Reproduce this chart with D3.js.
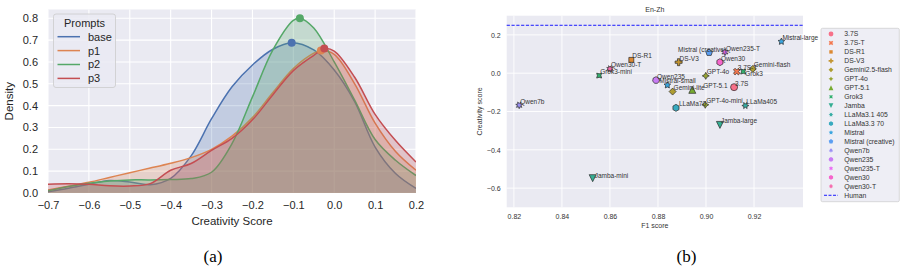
<!DOCTYPE html>
<html><head><meta charset="utf-8">
<script src="https://cdn.jsdelivr.net/npm/d3@7"></script>
<style>body{margin:0;background:#fff}svg{display:block}</style>
</head><body>
<svg id="c" width="906" height="269"></svg>
<script>
// ---------------- DATA: panel (a) ----------------
const promptNames = ["base", "p1", "p2", "p3"];
const kdeGrid = [-0.7,-0.65,-0.6,-0.55,-0.5,-0.45,-0.4,-0.35,-0.3,-0.25,-0.2,-0.15,-0.1,-0.05,0.0,0.05,0.1,0.15,0.2];
const densityBase = [0.006,0.022,0.040,0.057,0.050,0.038,0.067,0.170,0.340,0.486,0.586,0.658,0.688,0.655,0.563,0.418,0.210,0.089,0.021];
const densityP1   = [0.014,0.031,0.049,0.071,0.093,0.114,0.136,0.162,0.200,0.260,0.345,0.460,0.570,0.640,0.635,0.500,0.320,0.190,0.104];
const densityP2   = [0.010,0.030,0.045,0.055,0.060,0.060,0.062,0.066,0.095,0.226,0.440,0.655,0.790,0.755,0.600,0.425,0.245,0.150,0.080];
const densityP3   = [0.040,0.042,0.040,0.033,0.032,0.043,0.104,0.135,0.195,0.250,0.335,0.450,0.560,0.630,0.650,0.530,0.360,0.240,0.142];
const peakX = [-0.104, -0.0325, -0.084, -0.0243];
const peakY = [0.688, 0.652, 0.800, 0.661];
const aTicksX = [-0.7,-0.6,-0.5,-0.4,-0.3,-0.2,-0.1,0.0,0.1,0.2];
const aTicksY = [0.0,0.1,0.2,0.3,0.4,0.5,0.6,0.7,0.8];

// ---------------- DATA: panel (b) ----------------
const legendGroups = ["3.7S","3.7S-T","DS-R1","DS-V3","Gemini2.5-flash","GPT-4o","GPT-5.1","Grok3","Jamba","LLaMa3.1 405","LLaMa3.3 70","Mistral","Mistral (creative)","Qwen7b","Qwen235","Qwen235-T","Qwen30","Qwen30-T"];
const pointLabels = ["Mistral-large","Mistral (creative)","Qwen235-T","Qwen30","DS-V3","DS-R1","Qwen30-T","Grok3-mini","Qwen7b","3.7S-T","Grok3","Gemini-flash","GPT-4o","Qwen235","Mistral-small","Gemini-lite","GPT-5.1","3.7S","LLaMa70","GPT-4o-mini","LLaMa405","Jamba-large","Jamba-mini"];
const pointGroups = ["Mistral","Mistral (creative)","Qwen235-T","Qwen30","DS-V3","DS-R1","Qwen30-T","Grok3","Qwen7b","3.7S-T","Grok3","Gemini2.5-flash","GPT-4o","Qwen235","Mistral","Gemini2.5-flash","GPT-5.1","3.7S","LLaMa3.3 70","GPT-4o","LLaMa3.1 405","Jamba","Jamba"];
const f1Scores = [0.9314,0.9013,0.9079,0.9058,0.8886,0.8689,0.8600,0.8555,0.8222,0.9128,0.9155,0.9195,0.8999,0.8792,0.8839,0.8861,0.8943,0.9117,0.8875,0.8997,0.9164,0.9058,0.8528];
const creativityScores = [0.165,0.1075,0.1095,0.0574,0.0574,0.0694,0.0224,-0.0125,-0.167,0.0083,0.0083,0.0224,-0.014,-0.0365,-0.0626,-0.096,-0.087,-0.073,-0.181,-0.165,-0.169,-0.270,-0.548];
const humanScore = 0.25;
const bTicksX = [0.82,0.84,0.86,0.88,0.90,0.92];
const bTicksY = [-0.6,-0.4,-0.2,0.0,0.2];

// ---------------- STYLE ----------------
const promptColors = ["#4c72b0","#dd8452","#55a868","#c44e52"];
const groupColors = ["#f77189","#f3784f","#dc8932","#c39532","#ae9d31","#97a431","#77ab31","#33b16f","#35ae93","#36ada4","#38aabf","#3aa5df","#5b9ef2","#9a8ff4","#c87cf4","#e96cf4","#f565cc","#f66bad"];
const groupMarkers = [
  {t:"circle"},{t:"X"},{t:"poly",n:4,a:45},{t:"P"},{t:"poly",n:4,a:0},{t:"star",n:4,a:0},
  {t:"tri",up:true},{t:"star",n:4,a:45},{t:"tri",up:false},{t:"star",n:6,a:30},{t:"poly",n:6,a:0},
  {t:"star",n:5,a:0},{t:"poly",n:5,a:0},{t:"star",n:7,a:25.7},{t:"poly",n:7,a:0},{t:"star",n:6,a:0},
  {t:"poly",n:6,a:0},{t:"star",n:8,a:22.5}
];
const labelNudge = {
  "Mistral (creative)":[-31,-1], "Grok3":[2,4.8], "Mistral-small":[-8,-1.8], "GPT-5.1":[11,-1.5],
  "LLaMa70":[3,-2.2], "Jamba-mini":[2,-0.6]
};

const SANS = "'Liberation Sans', Arial, Helvetica, sans-serif";
const SERIF = "'Liberation Serif', 'Times New Roman', serif";
const BG = "#eaeaf2";
const svg = d3.select("#c");

function markerPath(m, R) {
  const p = d3.path();
  const rot = d => d * Math.PI / 180;
  if (m.t === "circle") { p.moveTo(R, 0); p.arc(0, 0, R, 0, 2 * Math.PI); p.closePath(); return p.toString(); }
  let pts = [];
  if (m.t === "poly" || m.t === "star") {
    const k = m.t === "star" ? 2 * m.n : m.n;
    for (let i = 0; i < k; i++) {
      const r = (m.t === "star" && i % 2 === 1) ? R * 0.5 : R;
      const th = -Math.PI / 2 + (2 * Math.PI * i) / k - rot(m.a);
      pts.push([r * Math.cos(th), r * Math.sin(th)]);
    }
  } else if (m.t === "tri") {
    pts = m.up ? [[0,-R],[-R,R],[R,R]] : [[0,R],[-R,-R],[R,-R]];
  } else if (m.t === "P" || m.t === "X") {
    const base = [[-1,-3],[1,-3],[1,-1],[3,-1],[3,1],[1,1],[1,3],[-1,3],[-1,1],[-3,1],[-3,-1],[-1,-1]].map(([x,y]) => [x*R/3, y*R/3]);
    if (m.t === "P") pts = base;
    else { const c = Math.cos(Math.PI/4), s = Math.sin(Math.PI/4); pts = base.map(([x,y]) => [x*c - y*s, x*s + y*c]); }
  }
  pts.forEach((q, i) => i ? p.lineTo(q[0], q[1]) : p.moveTo(q[0], q[1]));
  p.closePath();
  return p.toString();
}

// ================= PANEL (a) =================
const A = {x0: 48, x1: 416, y0: 9.5, y1: 193};
const xA = d3.scaleLinear().domain([-0.7, 0.2]).range([A.x0, A.x1]);
const yA = d3.scaleLinear().domain([0, 0.84]).range([A.y1, A.y0]);
const gA = svg.append("g");
gA.append("rect").attr("x", A.x0).attr("y", A.y0).attr("width", A.x1 - A.x0).attr("height", A.y1 - A.y0).attr("fill", BG);
gA.append("g").selectAll("line").data(aTicksX).join("line")
  .attr("x1", d => xA(d)).attr("x2", d => xA(d)).attr("y1", A.y0).attr("y2", A.y1)
  .attr("stroke", "#fff").attr("stroke-width", 1.1);
gA.append("g").selectAll("line").data(aTicksY).join("line")
  .attr("x1", A.x0).attr("x2", A.x1).attr("y1", d => yA(d)).attr("y2", d => yA(d))
  .attr("stroke", "#fff").attr("stroke-width", 1.1);

const fmtMinus = f => d => f(d).replace("-", "\u2212");
const axAx = gA.append("g").attr("transform", `translate(0,${A.y1})`)
  .call(d3.axisBottom(xA).tickValues(aTicksX).tickSize(0).tickPadding(8).tickFormat(fmtMinus(d3.format(".1f"))));
const axAy = gA.append("g").attr("transform", `translate(${A.x0},0)`)
  .call(d3.axisLeft(yA).tickValues(aTicksY).tickSize(0).tickPadding(10).tickFormat(d3.format(".1f")));
[axAx, axAy].forEach(ax => { ax.select(".domain").remove(); ax.selectAll("text").attr("font-family", SANS).attr("font-size", 11).attr("fill", "#262626"); });

const seriesA = [densityBase, densityP1, densityP2, densityP3];
const curve = d3.curveCatmullRom.alpha(0.5);
const area = d3.area().x(d => xA(d[0])).y0(yA(0)).y1(d => yA(Math.max(0, d[1]))).curve(curve);
const line = d3.line().x(d => xA(d[0])).y(d => yA(d[1])).curve(curve);
gA.append("clipPath").attr("id", "clipA").append("rect")
  .attr("x", A.x0).attr("y", A.y0).attr("width", A.x1 - A.x0).attr("height", A.y1 - A.y0);
const plotA = gA.append("g").attr("clip-path", "url(#clipA)");
seriesA.forEach((vals, i) => {
  let pts = kdeGrid.map((x, j) => [x, vals[j]]).filter(p => Math.abs(p[0] - peakX[i]) > 0.015);
  pts.push([peakX[i], peakY[i]]);
  pts.sort((a, b) => a[0] - b[0]);
  plotA.append("path").attr("d", area(pts)).attr("fill", promptColors[i]).attr("fill-opacity", 0.25);
  plotA.append("path").attr("d", line(pts)).attr("fill", "none").attr("stroke", promptColors[i]).attr("stroke-width", 1.5);
});
promptNames.forEach((n, i) => {
  gA.append("circle").attr("cx", xA(peakX[i])).attr("cy", yA(peakY[i])).attr("r", 4).attr("fill", promptColors[i]);
});

const lgA = gA.append("g");
lgA.append("rect").attr("x", 53.5).attr("y", 14).attr("width", 62).attr("height", 73.5).attr("rx", 2.5)
  .attr("fill", BG).attr("fill-opacity", 0.8).attr("stroke", "#cccccc").attr("stroke-width", 0.8);
lgA.append("text").attr("x", 84.5).attr("y", 26.5).attr("text-anchor", "middle").attr("font-family", SANS).attr("font-size", 11).attr("fill", "#262626").text("Prompts");
promptNames.forEach((n, i) => {
  const y = 36.7 + i * 13.9;
  lgA.append("line").attr("x1", 57.5).attr("x2", 80).attr("y1", y).attr("y2", y).attr("stroke", promptColors[i]).attr("stroke-width", 1.5);
  lgA.append("text").attr("x", 88).attr("y", y + 3.9).attr("font-family", SANS).attr("font-size", 11).attr("fill", "#262626").text(n);
});
gA.append("text").attr("x", (A.x0 + A.x1) / 2).attr("y", 224.5).attr("text-anchor", "middle").attr("font-family", SANS).attr("font-size", 11.5).attr("fill", "#262626").text("Creativity Score");
gA.append("text").attr("transform", `translate(12.5,${(A.y0 + A.y1) / 2}) rotate(-90)`).attr("text-anchor", "middle").attr("font-family", SANS).attr("font-size", 11.5).attr("fill", "#262626").text("Density");
svg.append("text").attr("x", 213).attr("y", 262).attr("text-anchor", "middle").attr("font-family", SERIF).attr("font-size", 17).attr("fill", "#000").text("(a)");

// ================= PANEL (b) =================
const B = {x0: 506.7, x1: 803, y0: 15.7, y1: 207.3};
const xB = d3.scaleLinear().domain([0.817, 0.9404]).range([B.x0, B.x1]);
const yB = d3.scaleLinear().domain([-0.7, 0.3]).range([B.y1, B.y0]);
const gB = svg.append("g");
gB.append("rect").attr("x", B.x0).attr("y", B.y0).attr("width", B.x1 - B.x0).attr("height", B.y1 - B.y0).attr("fill", BG);
gB.append("g").selectAll("line").data(bTicksX).join("line")
  .attr("x1", d => xB(d)).attr("x2", d => xB(d)).attr("y1", B.y0).attr("y2", B.y1).attr("stroke", "#fff").attr("stroke-width", 0.9);
gB.append("g").selectAll("line").data(bTicksY).join("line")
  .attr("x1", B.x0).attr("x2", B.x1).attr("y1", d => yB(d)).attr("y2", d => yB(d)).attr("stroke", "#fff").attr("stroke-width", 0.9);
const axBx = gB.append("g").attr("transform", `translate(0,${B.y1})`)
  .call(d3.axisBottom(xB).tickValues(bTicksX).tickSize(0).tickPadding(6.5).tickFormat(d3.format(".2f")));
const axBy = gB.append("g").attr("transform", `translate(${B.x0},0)`)
  .call(d3.axisLeft(yB).tickValues(bTicksY).tickSize(0).tickPadding(6).tickFormat(fmtMinus(d3.format(".1f"))));
[axBx, axBy].forEach(ax => { ax.select(".domain").remove(); ax.selectAll("text").attr("font-family", SANS).attr("font-size", 7).attr("fill", "#333"); });

gB.append("line").attr("x1", B.x0).attr("x2", B.x1).attr("y1", yB(humanScore)).attr("y2", yB(humanScore))
  .attr("stroke", "#0000ff").attr("stroke-width", 0.9).attr("stroke-dasharray", "3.2,1.6");

const R = 3.5;
pointLabels.forEach((lab, i) => {
  const gi = legendGroups.indexOf(pointGroups[i]);
  gB.append("path").attr("d", markerPath(groupMarkers[gi], R))
    .attr("transform", `translate(${xB(f1Scores[i])},${yB(creativityScores[i])})`)
    .attr("fill", groupColors[gi]).attr("stroke", "#2a2a2a").attr("stroke-width", 0.7);
});
pointLabels.forEach((lab, i) => {
  const nd = labelNudge[lab] || [1, -1.5];
  gB.append("text").attr("x", xB(f1Scores[i]) + nd[0]).attr("y", yB(creativityScores[i]) + nd[1])
    .attr("font-family", SANS).attr("font-size", 6.5).attr("fill", "#333").text(lab);
});

gB.append("text").attr("x", (B.x0 + B.x1) / 2).attr("y", 11.8).attr("text-anchor", "middle").attr("font-family", SANS).attr("font-size", 7).attr("fill", "#333").text("En-Zh");
gB.append("text").attr("x", (B.x0 + B.x1) / 2).attr("y", 228).attr("text-anchor", "middle").attr("font-family", SANS).attr("font-size", 7).attr("fill", "#333").text("F1 score");
gB.append("text").attr("transform", `translate(481.5,${(B.y0 + B.y1) / 2}) rotate(-90)`).attr("text-anchor", "middle").attr("font-family", SANS).attr("font-size", 7).attr("fill", "#333").text("Creativity score");
svg.append("text").attr("x", 686.5).attr("y", 262).attr("text-anchor", "middle").attr("font-family", SERIF).attr("font-size", 17).attr("fill", "#000").text("(b)");

const lgB = svg.append("g");
lgB.append("rect").attr("x", 821).attr("y", 28.3).attr("width", 78.3).attr("height", 173.4).attr("rx", 1.5)
  .attr("fill", BG).attr("fill-opacity", 0.8).attr("stroke", "#cccccc").attr("stroke-width", 0.7);
const legItems = legendGroups.concat(["Human"]);
legItems.forEach((n, i) => {
  const y = 34 + i * 8.96;
  if (i < legendGroups.length) {
    lgB.append("path").attr("d", markerPath(groupMarkers[i], 2.4)).attr("transform", `translate(831,${y})`).attr("fill", groupColors[i]);
  } else {
    lgB.append("line").attr("x1", 824).attr("x2", 838).attr("y1", y).attr("y2", y).attr("stroke", "#0000ff").attr("stroke-width", 0.9).attr("stroke-dasharray", "3,1.5");
  }
  lgB.append("text").attr("x", 844.3).attr("y", y + 2.4).attr("font-family", SANS).attr("font-size", 6.8).attr("fill", "#333").text(n);
});
</script>
</body></html>
